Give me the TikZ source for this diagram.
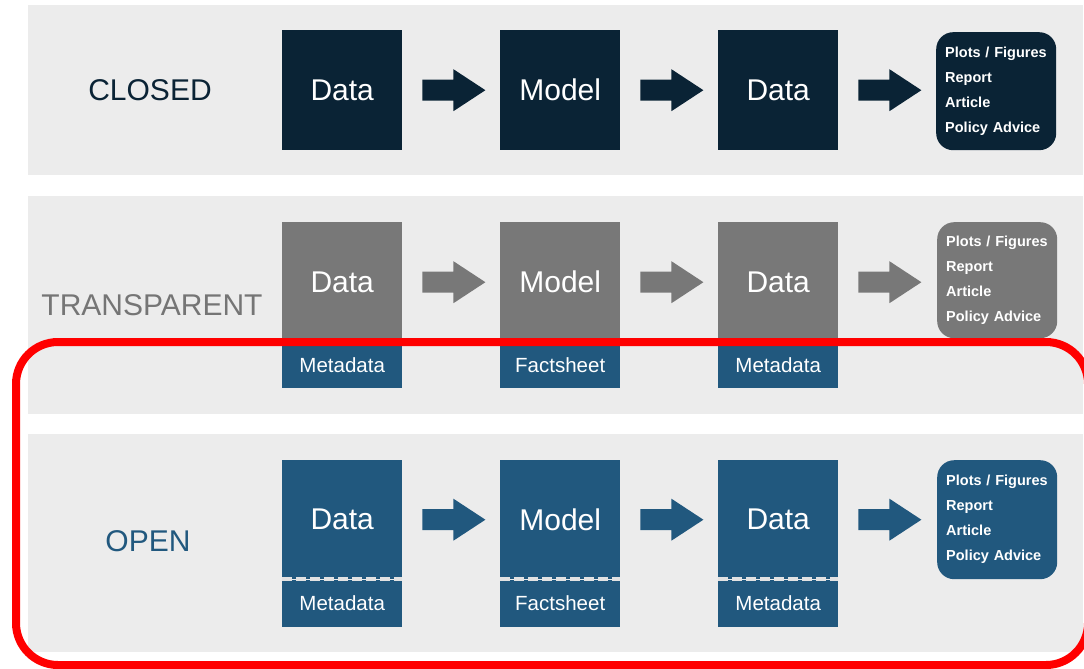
\documentclass[tikz,border=0pt]{standalone}
\usepackage{fontspec}
\setmainfont{Liberation Sans}
\usetikzlibrary{calc}
\definecolor{navyc}{HTML}{0A2335}
\definecolor{grayc}{HTML}{787878}
\definecolor{grayt}{HTML}{757575}
\definecolor{bluec}{HTML}{21587E}
\definecolor{panelc}{HTML}{ECECEC}
\definecolor{dashc}{HTML}{E2E2E2}
\definecolor{redc}{HTML}{FF0000}
\newcommand\blockarrow[2]{%
  \fill[#1] ($(#2.east)+(20,-10.5)$) -- ++(31,0) -- ++(0,-10.5) -- ++(32,21)
    -- ++(-32,21) -- ++(0,-10.5) -- ++(-31,0) -- cycle;}
\begin{document}
\begin{tikzpicture}[x=1pt,y=-1pt,
  blk/.style={minimum width=120pt, minimum height=#1, inner sep=0pt,
    text=white, anchor=north west, font=\fontsize{30}{36}\selectfont},
  sub/.style={minimum width=120pt, minimum height=#1, inner sep=0pt,
    text=white, anchor=north west, font=\fontsize{20.5}{24}\selectfont},
  outbox/.style={anchor=north west, rounded corners=17pt, text=white,
    minimum height=#1, text width=102pt, inner xsep=9pt, inner ysep=0pt,
    align=left, font=\bfseries\fontsize{14.5}{25}\selectfont},
  rowlabel/.style={font=\fontsize{30}{36}\selectfont},
  dashsep/.style={draw=dashc, line width=4pt, dash pattern=on 9.5pt off 4.5pt}
]
\useasboundingbox (0,0) rectangle (1084,669);
% panels
\fill[panelc] (28,5) rectangle (1083,175);
\fill[panelc] (28,196) rectangle (1083,414);
\fill[panelc] (28,434) rectangle (1083,652);

% CLOSED row
\node[rowlabel, text=navyc] (lc) at (150,90) {CLOSED};
\node[blk=120pt, fill=navyc] (c1) at (282,30) {Data};
\node[blk=120pt, fill=navyc] (c2) at (500,30) {Model};
\node[blk=120pt, fill=navyc] (c3) at (718,30) {Data};
\node[outbox=118pt, fill=navyc] (co) at (936,32) {Plots / Figures\\Report\\Article\\Policy Advice};
\blockarrow{navyc}{c1}
\blockarrow{navyc}{c2}
\blockarrow{navyc}{c3}

% TRANSPARENT row
\node[rowlabel, text=grayt] (lt) at (152,305) {TRANSPARENT};
\node[blk=120pt, fill=grayc] (t1) at (282,222) {Data};
\node[blk=120pt, fill=grayc] (t2) at (500,222) {Model};
\node[blk=120pt, fill=grayc] (t3) at (718,222) {Data};
\node[sub=45pt, fill=bluec] (tm1) at (t1.south west) {Metadata};
\node[sub=45pt, fill=bluec] (tm2) at (t2.south west) {Factsheet};
\node[sub=45pt, fill=bluec] (tm3) at (t3.south west) {Metadata};
\node[outbox=116pt, fill=grayc] (to) at (937,222) {Plots / Figures\\Report\\Article\\Policy Advice};
\blockarrow{grayc}{t1}
\blockarrow{grayc}{t2}
\blockarrow{grayc}{t3}

% OPEN row
\node[rowlabel, text=bluec] (lo) at (148,541) {OPEN};
\node[blk=119pt, fill=bluec] (o1) at (282,460) {Data};
\node[blk=119pt, fill=bluec] (o2) at (500,460) {Model};
\node[blk=119pt, fill=bluec] (o3) at (718,460) {Data};
\node[sub=47pt, fill=bluec] (om1) at (o1.south west) {Metadata};
\node[sub=47pt, fill=bluec] (om2) at (o2.south west) {Factsheet};
\node[sub=47pt, fill=bluec] (om3) at (o3.south west) {Metadata};
\draw[dashsep] (o1.south west) -- (o1.south east);
\draw[dashsep] (o2.south west) -- (o2.south east);
\draw[dashsep] (o3.south west) -- (o3.south east);
\node[outbox=119pt, fill=bluec] (oo) at (937,460) {Plots / Figures\\Report\\Article\\Policy Advice};
\blockarrow{bluec}{o1}
\blockarrow{bluec}{o2}
\blockarrow{bluec}{o3}

% highlight frame
\draw[redc, line width=8pt, rounded corners=42pt] (16,342) rectangle (1088,665);
\end{tikzpicture}
\end{document}
